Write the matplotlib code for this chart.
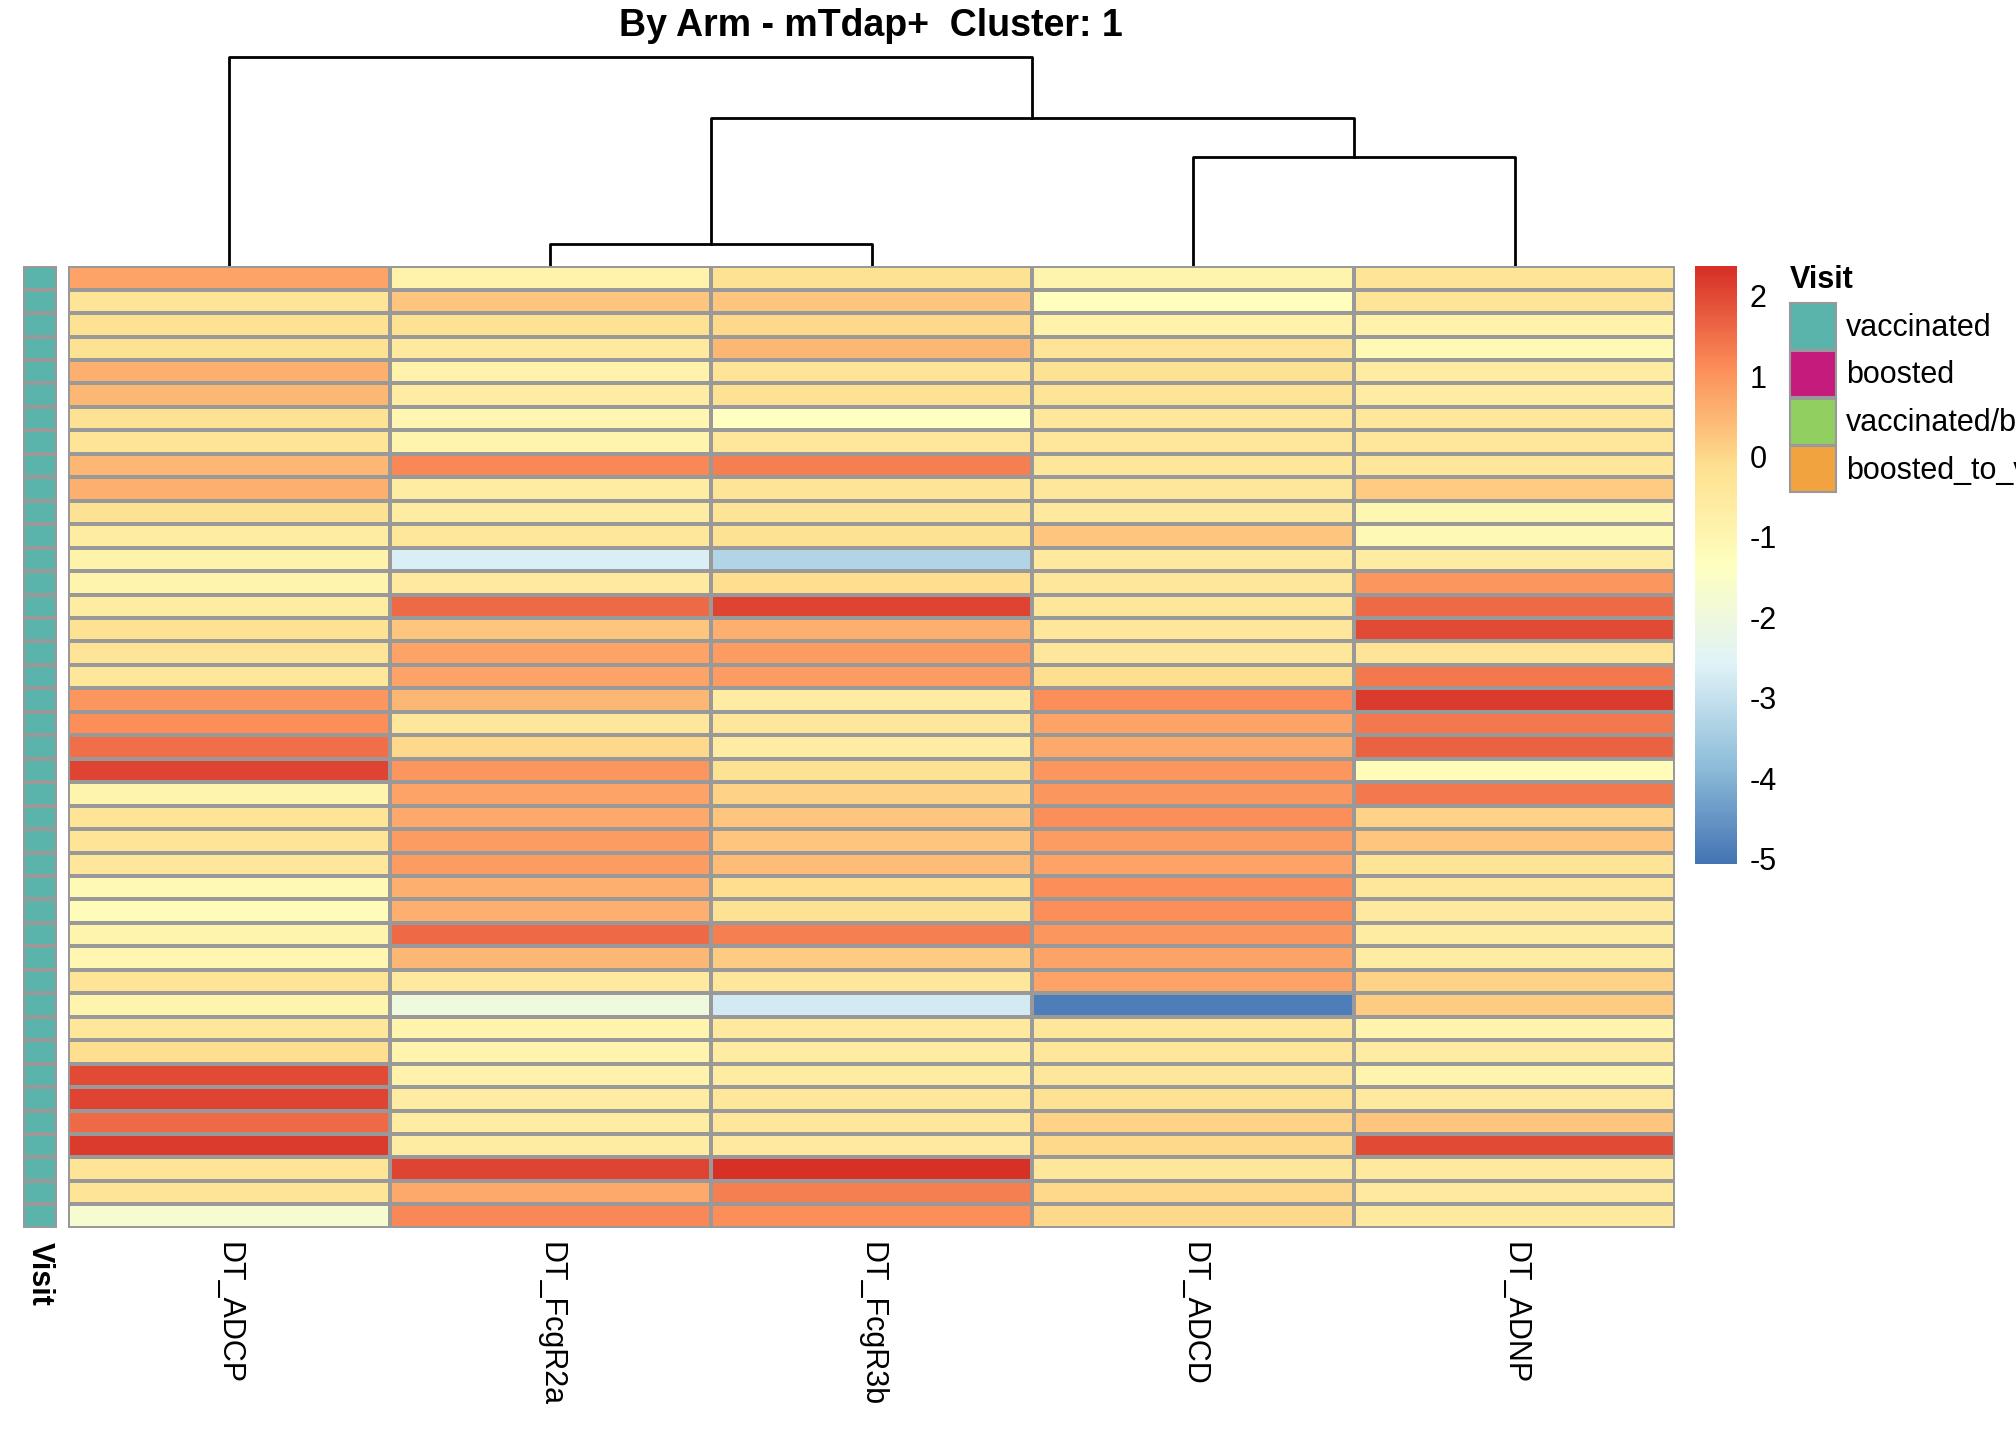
import numpy as np
import matplotlib
matplotlib.use("Agg")
import matplotlib.pyplot as plt
from matplotlib.colors import LinearSegmentedColormap, Normalize
from matplotlib.patches import Rectangle

plt.rcParams['font.family'] = ['Liberation Sans', 'DejaVu Sans']
plt.rcParams['axes.unicode_minus'] = False

features = ["DT_ADCP", "DT_FcgR2a", "DT_FcgR3b", "DT_ADCD", "DT_ADNP"]
ADCP = [0.8,-0.3,-0.2,-0.2,0.6,0.5,-0.2,-0.3,0.5,0.6,-0.2,-0.6,-0.8,-0.9,-0.6,-0.2,-0.3,-0.4,1.0,1.1,1.5,2.1,-0.9,-0.3,-0.3,-0.4,-1.1,-1.2,-0.9,-1.0,-0.3,-0.9,-0.4,-0.1,2.0,2.1,1.6,2.2,-0.3,-0.3,-1.7]
FcgR2a = [-0.8,0.3,-0.2,-0.5,-0.8,-0.6,-1.0,-0.9,1.2,-0.6,-0.6,-0.4,-2.7,-0.5,1.6,0.3,0.8,0.8,0.5,-0.4,0.0,1.0,0.8,0.7,0.9,0.9,0.6,0.6,1.6,0.5,-0.5,-2.0,-0.9,-0.9,-0.8,-0.6,-0.6,-0.6,2.1,0.7,1.2]
FcgR3b = [-0.2,0.3,0.0,0.5,-0.3,-0.2,-1.4,-0.4,1.3,-0.3,-0.3,-0.2,-3.3,-0.1,2.1,0.6,0.9,0.9,-0.6,-0.4,-0.6,-0.2,0.1,0.3,0.3,0.4,-0.1,-0.2,1.3,0.2,-0.4,-2.8,-0.5,-0.6,-0.6,-0.4,-0.4,-0.5,2.4,1.3,1.1]
ADCD = [-0.9,-1.3,-0.8,-0.3,-0.2,-0.3,-0.4,-0.4,-0.4,-0.4,-0.5,0.3,-0.5,-0.4,-0.4,-0.4,-0.4,-0.1,1.1,0.8,0.7,1.0,1.0,1.1,0.9,0.8,1.1,1.1,1.0,0.8,0.8,-4.9,-0.4,-0.4,-0.4,-0.2,0.1,0.0,-0.4,0.0,0.0]
ADNP = [-0.3,-0.3,-0.8,-1.1,-0.6,-0.6,-0.4,-0.4,-0.4,0.2,-1.0,-1.1,-0.6,1.0,1.6,2.0,-0.3,1.4,2.2,1.4,1.7,-1.2,1.4,0.1,0.3,-0.3,-0.4,-0.5,-0.6,-0.6,0.1,0.2,-0.9,-0.6,-0.9,-0.5,0.3,2.0,-0.5,-0.5,-0.5]
merge_heights = [17, 85, 115, 163]  # FcgR2a+FcgR3b, ADCD+ADNP, those two, ADCP+rest
visit_levels = ["vaccinated", "boosted", "vaccinated/boosted", "boosted_to_vaccinated"]
visit_colors = ["#5AB4AC", "#C51B7D", "#91CF60", "#F1A340"]

data = np.array([ADCP, FcgR2a, FcgR3b, ADCD, ADNP]).T
nr, nc = data.shape

W, H = 1568, 1120
fig = plt.figure(figsize=(20.16, 14.4), dpi=100)
def ax_at(x0, y0, x1, y1):
    return fig.add_axes([x0 / W, 1 - y1 / H, (x1 - x0) / W, (y1 - y0) / H])

cmap = LinearSegmentedColormap.from_list("p", ["#4575B4", "#91BFDB", "#E0F3F8", "#FFFFBF", "#FEE090", "#FC8D59", "#D73027"])
norm = Normalize(-5.07, 2.37)

ax = ax_at(53, 207, 1303, 955)
ax.pcolormesh(np.arange(nc + 1), np.arange(nr + 1), data, cmap=cmap, norm=norm,
              edgecolors="#999999", linewidth=1.5)
ax.set_xlim(0, nc); ax.set_ylim(nr, 0)
for s in ax.spines.values(): s.set_visible(False)
ax.set_yticks([])
ax.set_xticks(np.arange(nc) + 0.5)
ax.set_xticklabels(features, rotation=-90, fontsize=22, va="top", ha="center")
ax.tick_params(axis="x", length=0, pad=10)

aa = ax_at(18, 207, 44, 955)
aa.pcolormesh([0, 1], np.arange(nr + 1), np.zeros((nr, 1)),
              cmap=LinearSegmentedColormap.from_list("v", [visit_colors[0]] * 2),
              edgecolors="#999999", linewidth=1.5)
aa.set_xlim(0, 1); aa.set_ylim(nr, 0)
for s in aa.spines.values(): s.set_visible(False)
aa.set_yticks([]); aa.set_xticks([0.5]); aa.set_xticklabels(["Visit"], rotation=-90, fontsize=22, fontweight="bold", va="top")
aa.tick_params(axis="x", length=0, pad=10)

ad = ax_at(53, 30, 1303, 207)
ad.set_xlim(0, nc); ad.set_ylim(0, 177)
ad.axis("off")
h1, h2, h3, h4 = merge_heights
def link(xl, yl, xr, yr, h):
    ad.plot([xl, xl, xr, xr], [yl, h, h, yr], color="black", lw=2)
link(1.5, 0, 2.5, 0, h1)
link(3.5, 0, 4.5, 0, h2)
link(2.0, h1, 4.0, h2, h3)
link(0.5, 0, 3.0, h3, h4)

fig.text(677 / W, 1 - 20 / H, "By Arm - mTdap+  Cluster: 1", ha="center", va="center", fontsize=27, fontweight="bold")

ac = ax_at(1318, 207, 1350, 672)
grad = np.linspace(2.37, -5.07, 300).reshape(-1, 1)
ac.imshow(grad, aspect="auto", cmap=cmap, norm=norm, extent=[0, 1, -5.07, 2.37])
ac.set_xticks([]); ac.yaxis.tick_right()
ac.set_yticks([2, 1, 0, -1, -2, -3, -4, -5])
ac.tick_params(axis="y", length=0, labelsize=22, pad=10)
for s in ac.spines.values(): s.set_visible(False)

fig.text(1392 / W, 1 - 218 / H, "Visit", fontsize=22, fontweight="bold", va="center")
for i, (lab, col) in enumerate(zip(visit_levels, visit_colors)):
    y0 = 236 + i * 37
    fig.patches.append(Rectangle((1392 / W, 1 - (y0 + 36) / H), 36 / W, 36 / H, transform=fig.transFigure,
                                 facecolor=col, edgecolor="#999999", lw=1.5))
    fig.text(1436 / W, 1 - (y0 + 19) / H, lab, fontsize=22, va="center")

fig.savefig("out.png", dpi=100)
